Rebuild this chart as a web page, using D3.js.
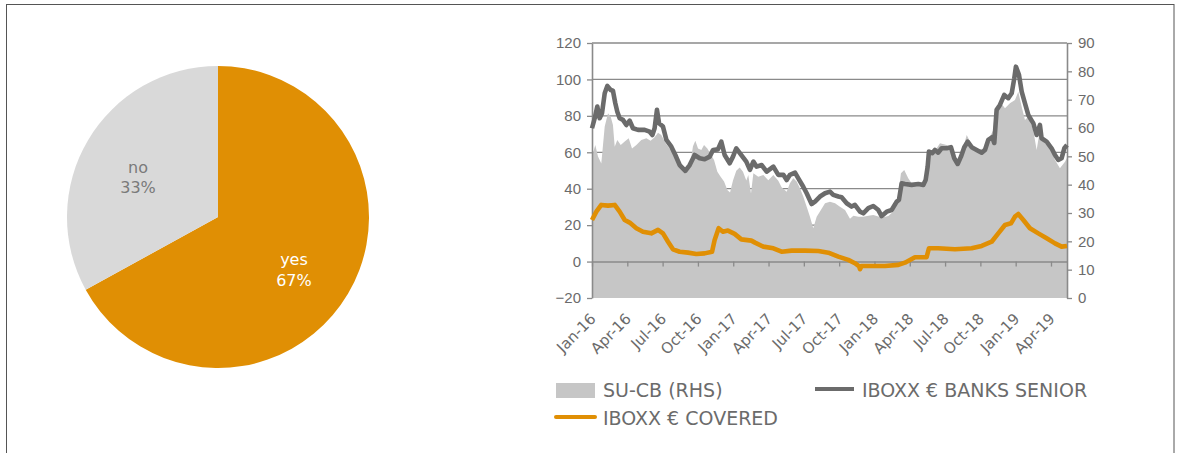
<!DOCTYPE html>
<html><head><meta charset="utf-8">
<script src="https://cdn.jsdelivr.net/npm/d3@7"></script>
<style>
body{margin:0;background:#fff;}
svg{display:block;font-family:"DejaVu Sans",Verdana,sans-serif;}
</style>
</head><body>
<svg id="c" width="1177" height="453"></svg>
<script>
// ---------- DATA ----------
const pieLabels = ["yes", "no"];
const pieValues = [67, 33];

const xTickLabels = ["Jan-16","Apr-16","Jul-16","Oct-16","Jan-17","Apr-17","Jul-17","Oct-17","Jan-18","Apr-18","Jul-18","Oct-18","Jan-19","Apr-19"];
const xTickMonths = [0,3,6,9,12,15,18,21,24,27,30,33,36,39];   // months since Jan-16
const leftTicks = [-20,0,20,40,60,80,100,120];
const rightTicks = [0,10,20,30,40,50,60,70,80,90];

const seriesNames = ["SU-CB (RHS)", "IBOXX € BANKS SENIOR", "IBOXX € COVERED"];

// [months since 1 Jan 2016, value]
const seniorData = [[0,73.2],[0.23,78.7],[0.45,85.1],[0.65,78.7],[0.85,81.4],[1.08,92.4],[1.3,96.4],[1.59,94.2],[1.78,93.8],[1.98,86.9],[2.15,82.3],[2.35,78.7],[2.63,77.8],[2.92,75.0],[3.2,77.4],[3.48,73.2],[3.91,72.3],[4.47,72.3],[4.9,71.3],[5.13,69.5],[5.32,73.2],[5.52,83.3],[5.7,75.9],[6.03,74.1],[6.32,66.8],[6.74,63.1],[7.08,58.5],[7.45,53.0],[7.93,49.8],[8.3,53.0],[8.72,58.5],[9.15,56.7],[9.57,56.2],[10.0,57.6],[10.28,61.3],[10.7,61.6],[10.99,65.8],[11.27,58.5],[11.7,54.0],[11.98,57.6],[12.26,62.2],[12.69,58.5],[13.11,54.9],[13.42,50.3],[13.71,54.9],[13.99,52.1],[14.42,53.0],[14.84,49.4],[15.41,52.1],[15.83,47.6],[16.26,47.6],[16.54,44.8],[16.82,47.6],[17.25,48.8],[17.53,45.7],[17.95,41.1],[18.24,37.5],[18.66,31.6],[18.95,32.9],[19.37,35.7],[19.8,37.5],[20.22,38.4],[20.5,36.6],[20.93,35.7],[21.21,35.3],[21.64,32.0],[22.06,30.2],[22.34,31.1],[22.77,27.4],[23.05,26.5],[23.48,29.3],[23.9,30.5],[24.33,28.3],[24.61,25.0],[25.04,27.4],[25.46,28.3],[25.89,32.9],[26.08,33.8],[26.31,43.0],[26.59,42.6],[27.16,42.1],[27.73,42.6],[28.15,42.1],[28.35,44.8],[28.52,52.1],[28.63,60.4],[28.92,59.5],[29.14,61.3],[29.42,59.8],[29.71,62.2],[30.13,62.2],[30.5,62.8],[30.78,56.7],[31.07,53.6],[31.35,57.6],[31.63,62.8],[31.92,65.8],[32.26,62.8],[32.68,61.3],[33.11,59.8],[33.39,61.3],[33.67,66.8],[34.01,68.3],[34.18,65.1],[34.38,83.3],[34.66,86.0],[35.03,91.5],[35.37,89.7],[35.66,92.4],[35.88,100.6],[36.02,107.0],[36.28,102.5],[36.51,93.3],[36.79,86.9],[37.07,80.5],[37.5,75.9],[37.78,69.5],[38.06,75.0],[38.2,67.7],[38.63,65.8],[39.05,62.2],[39.34,58.5],[39.62,55.8],[39.9,56.7],[40.13,62.2],[40.36,64.0]];

const coveredData = [[0,22.8],[0.37,27.4],[0.79,31.1],[1.36,30.7],[1.93,31.1],[2.35,27.4],[2.78,22.8],[3.2,21.4],[3.77,18.3],[4.33,16.4],[5.04,15.5],[5.61,17.4],[6.03,15.5],[6.46,10.9],[6.88,6.7],[7.45,5.4],[8.16,4.9],[8.86,4.2],[9.57,4.5],[10.2,5.4],[10.42,11.9],[10.76,18.3],[11.13,16.4],[11.55,17.0],[12.12,15.2],[12.69,12.2],[13.54,11.5],[13.85,10.4],[14.56,8.2],[15.41,7.3],[16.11,5.4],[16.96,6.0],[18.1,6.0],[19.23,5.8],[20.08,4.9],[20.93,2.7],[21.78,0.9],[22.34,-0.9],[22.7,-2.6],[22.77,-4.2],[22.9,-2.4],[23.77,-2.4],[24.89,-2.4],[26.03,-1.8],[26.59,-0.6],[27.44,2.4],[28.43,2.4],[28.63,7.3],[29.42,7.3],[30.84,6.8],[32.26,7.3],[33.11,8.6],[33.96,10.9],[34.52,15.5],[35.09,20.1],[35.6,21.0],[35.94,24.7],[36.22,26.1],[36.65,22.8],[37.21,18.3],[37.92,15.5],[38.63,12.8],[39.34,10.0],[39.9,8.2],[40.36,8.6]];

const sucbData = [[0,49.9],[0.28,54.0],[0.51,49.9],[0.79,47.5],[1.08,60.5],[1.36,65.2],[1.59,64.0],[1.78,61.1],[1.93,53.4],[2.15,55.8],[2.44,54.0],[2.78,55.2],[3.12,56.4],[3.4,52.8],[3.77,54.0],[4.19,55.8],[4.62,56.4],[4.98,55.5],[5.32,56.7],[5.61,58.3],[5.89,57.5],[6.23,54.8],[6.68,52.2],[7.08,49.3],[7.53,45.8],[7.93,44.0],[8.3,46.1],[8.58,53.6],[8.78,55.5],[9.01,52.8],[9.29,52.2],[9.52,54.0],[9.8,52.8],[10.08,50.8],[10.37,48.7],[10.65,44.6],[10.93,42.8],[11.22,41.1],[11.5,38.1],[11.73,37.2],[11.98,41.5],[12.26,44.9],[12.55,46.1],[12.83,44.6],[13.11,41.5],[13.28,43.4],[13.51,36.9],[13.71,44.0],[14.13,42.8],[14.56,43.4],[14.98,41.6],[15.41,43.4],[15.83,41.4],[16.11,39.1],[16.54,37.5],[16.82,40.5],[17.1,42.3],[17.39,41.1],[17.67,38.7],[17.95,35.8],[18.24,32.2],[18.52,28.7],[18.8,24.6],[19.09,28.7],[19.37,30.5],[19.8,33.4],[20.22,34.0],[20.65,33.4],[21.07,32.2],[21.5,31.1],[21.92,28.0],[22.21,29.0],[22.63,28.7],[23.05,28.7],[23.48,29.0],[23.9,29.3],[24.33,28.8],[24.75,28.5],[25.18,28.9],[25.6,30.5],[25.97,34.6],[26.25,44.0],[26.53,45.2],[26.87,42.3],[27.16,40.5],[27.87,40.5],[28.29,41.6],[28.57,51.1],[29.0,51.1],[29.57,54.6],[30.13,54.0],[30.7,51.1],[30.99,47.5],[31.41,51.1],[31.84,57.5],[32.26,54.0],[32.68,52.2],[33.25,52.8],[33.67,55.8],[34.1,59.3],[34.24,66.4],[34.66,69.3],[35.09,67.0],[35.51,68.7],[35.94,69.9],[36.22,72.8],[36.51,67.5],[36.79,62.8],[37.07,64.0],[37.49,59.3],[37.78,52.2],[38.06,59.3],[38.49,54.6],[38.91,53.4],[39.34,48.7],[39.76,45.8],[40.19,48.1],[40.36,49.4]];

// ---------- STYLE ----------
const ORANGE = "#e08f04", GREY_PIE = "#d9d9d9", AREA = "#c6c6c6", SENIOR = "#6b6b6b";
const AXIS = "#8a8a8a", TEXT = "#6b6b6b";

const svg = d3.select("#c");

// outer frame
svg.append("rect").attr("x",6.5).attr("y",4.5).attr("width",1167.5).attr("height",470)
  .attr("fill","none").attr("stroke","#555").attr("stroke-width",1);

// ---------- PIE ----------
const cx = 218, cy = 217, R = 151;
const pie = d3.pie().sort(null).value(d => d)(pieValues);
const arc = d3.arc().innerRadius(0).outerRadius(R);
const labArc = d3.arc().innerRadius(R*0.6).outerRadius(R*0.6);
const pg = svg.append("g").attr("transform",`translate(${cx},${cy})`);
pg.selectAll("path").data(pie).join("path")
  .attr("d", arc).attr("fill",(d,i)=> i===0 ? ORANGE : GREY_PIE);
pie.forEach((d,i)=>{
  const [lx, ly] = labArc.centroid(d);
  const t = pg.append("text").attr("text-anchor","middle")
    .attr("font-size","16px").attr("fill", i===0 ? "#ffffff" : "#7a7a7a");
  t.append("tspan").attr("x", lx-2).attr("y", ly+2).text(pieLabels[i]);
  t.append("tspan").attr("x", lx-2).attr("y", ly+22.5).text(Math.round(d.value)+"%");
});

// ---------- LINE CHART ----------
const X0 = 592, X1 = 1067, YT = 43, YB = 298;
const x = d3.scaleLinear().domain([0,40.36]).range([X0,X1]);
const yL = d3.scaleLinear().domain([-20,120]).range([YB,YT]);
const yR = d3.scaleLinear().domain([0,90]).range([YB,YT]);

// gridlines
svg.append("g").selectAll("line").data(leftTicks.filter(v=>v>-20 && v!==0)).join("line")
  .attr("x1",X0).attr("x2",X1).attr("y1",d=>yL(d)).attr("y2",d=>yL(d))
  .attr("stroke",AXIS).attr("stroke-width",1.3);

// area SU-CB on right axis
svg.append("path").datum(sucbData)
  .attr("d", d3.area().x(d=>x(d[0])).y0(yR(0)).y1(d=>yR(d[1])))
  .attr("fill", AREA);

// x axis (at 0)
const xAxis = svg.append("g").attr("transform",`translate(0,${yL(0)})`)
  .call(d3.axisBottom(x).tickValues(xTickMonths).tickSize(5).tickSizeOuter(0).tickFormat(""));
xAxis.select(".domain").attr("stroke",AXIS).attr("stroke-width",1.6);
xAxis.selectAll(".tick line").attr("stroke",AXIS).attr("stroke-width",1.3);

// x tick labels (rotated)
svg.append("g").selectAll("text").data(xTickMonths).join("text")
  .attr("transform", d => `translate(${x(d)+1},${316}) rotate(-45)`)
  .attr("text-anchor","end").attr("dy","0.35em")
  .attr("font-size","15px").attr("fill",TEXT)
  .text((d,i)=> xTickLabels[i]);

// left axis
const la = svg.append("g").attr("transform",`translate(${X0},0)`)
  .call(d3.axisLeft(yL).tickValues(leftTicks).tickSize(5).tickSizeOuter(0).tickPadding(6));
la.select(".domain").attr("stroke",AXIS).attr("stroke-width",1.6);
la.selectAll(".tick line").attr("stroke",AXIS).attr("stroke-width",1.3);
la.selectAll(".tick text").attr("font-size","15px").attr("fill",TEXT).attr("font-family",null);

// right axis
const ra = svg.append("g").attr("transform",`translate(${X1},0)`)
  .call(d3.axisRight(yR).tickValues(rightTicks).tickSize(5).tickSizeOuter(0).tickPadding(6));
ra.select(".domain").attr("stroke",AXIS).attr("stroke-width",1.6);
ra.selectAll(".tick line").attr("stroke",AXIS).attr("stroke-width",1.3);
ra.selectAll(".tick text").attr("font-size","15px").attr("fill",TEXT).attr("font-family",null);

// lines
const lineL = d3.line().x(d=>x(d[0])).y(d=>yL(d[1]));
svg.append("path").datum(seniorData).attr("d",lineL)
  .attr("fill","none").attr("stroke",SENIOR).attr("stroke-width",4.6).attr("stroke-linejoin","round");
svg.append("path").datum(coveredData).attr("d",lineL)
  .attr("fill","none").attr("stroke",ORANGE).attr("stroke-width",4.6).attr("stroke-linejoin","round");

// ---------- LEGEND ----------
const lg = svg.append("g").attr("font-size","19px").attr("fill",TEXT);
lg.append("rect").attr("x",556).attr("y",383).attr("width",39).attr("height",15).attr("fill",AREA);
lg.append("text").attr("x",603).attr("y",397).text(seriesNames[0]);
lg.append("line").attr("x1",815).attr("x2",854).attr("y1",389).attr("y2",389)
  .attr("stroke",SENIOR).attr("stroke-width",4);
lg.append("text").attr("x",862).attr("y",397).text(seriesNames[1]);
lg.append("line").attr("x1",556).attr("x2",595).attr("y1",417).attr("y2",417)
  .attr("stroke",ORANGE).attr("stroke-width",4).attr("stroke-linecap","round");
lg.append("text").attr("x",603).attr("y",425).text(seriesNames[2]);
</script>
</body></html>
